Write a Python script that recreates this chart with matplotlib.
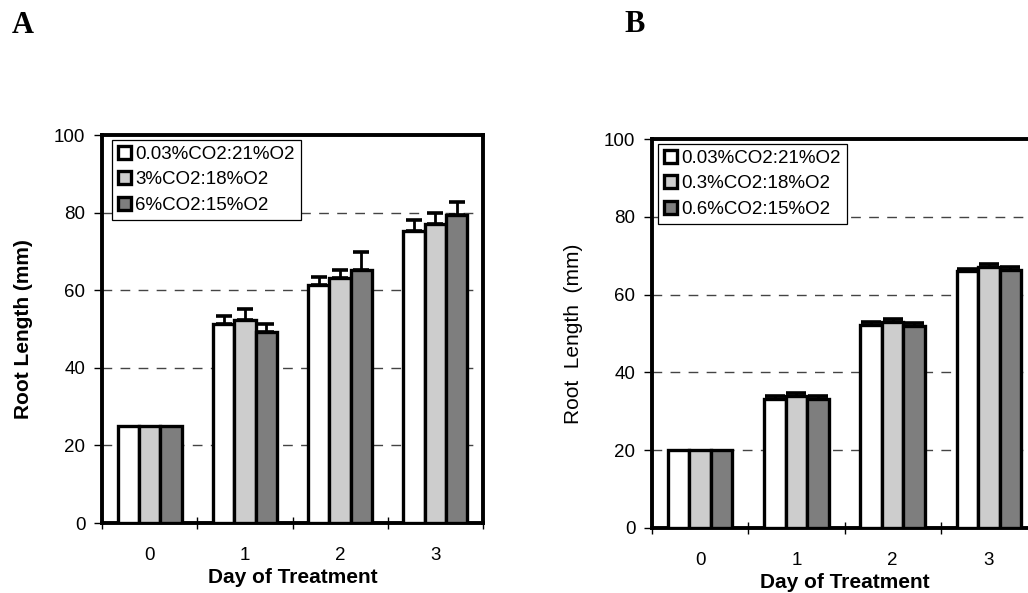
import matplotlib
matplotlib.use("Agg")
import matplotlib.pyplot as plt
import numpy as np

plt.rcParams['font.family'] = ['Liberation Sans', 'DejaVu Sans']

days = ["0", "1", "2", "3"]

# Panel A
labels_A = ["0.03%CO2:21%O2", "3%CO2:18%O2", "6%CO2:15%O2"]
A_white = [25.0, 51.2, 61.4, 75.2]
A_light = [25.0, 52.3, 63.2, 77.1]
A_dark = [25.0, 49.2, 65.1, 79.3]
A_white_err = [0.0, 2.1, 2.1, 2.8]
A_light_err = [0.0, 2.9, 2.1, 2.9]
A_dark_err = [0.0, 2.0, 4.8, 3.5]

# Panel B
labels_B = ["0.03%CO2:21%O2", "0.3%CO2:18%O2", "0.6%CO2:15%O2"]
B_white = [20.0, 33.2, 52.2, 66.0]
B_light = [20.0, 33.9, 53.0, 67.1]
B_dark = [20.0, 33.2, 52.0, 66.3]
B_white_err = [0.0, 0.7, 0.8, 0.6]
B_light_err = [0.0, 0.8, 0.8, 0.8]
B_dark_err = [0.0, 0.7, 0.8, 0.9]

yticks = [0, 20, 40, 60, 80, 100]
colors = ["#ffffff", "#cdcdcd", "#7e7e7e"]

W, H = 1028, 593
fig = plt.figure(figsize=(W / 100, H / 100), dpi=100)


def px_axes(l, r, t, b):
    return [l / W, (H - b) / H, (r - l) / W, (b - t) / H]


def draw(ax, series, errs, labels, ylabel, ybold, leg_xy, capsize):
    x = np.arange(len(days))
    bw = 0.224
    offs = [-bw, 0, bw]
    handles = []
    for s, e, c, o, lab in zip(series, errs, colors, offs, labels):
        b = ax.bar(x + o, s, width=bw, color=c, edgecolor='black', linewidth=2.4,
                   label=lab, zorder=3)
        handles.append(b)
        yerr = np.array([np.zeros(len(e)), e])
        mask = np.array(e) > 0
        ax.errorbar((x + o)[mask], np.array(s)[mask], yerr=yerr[:, mask], fmt='none',
                    ecolor='black', elinewidth=2.0, capsize=capsize, capthick=2.6, zorder=4)
    ax.set_xlim(-0.5, 3.5)
    ax.set_ylim(0, 100)
    ax.set_yticks(yticks)
    ax.set_xticks(x)
    ax.set_xticklabels(days)
    ax.set_xticks(np.arange(-0.5, 4.0, 1.0), minor=True)
    ax.tick_params(axis='x', which='major', length=0, pad=17, labelsize=13.5)
    ax.tick_params(axis='x', which='minor', direction='inout', length=9, width=1)
    ax.tick_params(axis='y', which='major', direction='out', length=6, width=1,
                   pad=6, labelsize=13.5)
    for sp in ax.spines.values():
        sp.set_linewidth(2.8)
    ax.set_axisbelow(True)
    ax.yaxis.grid(True, linestyle=(0, (7, 6)), color='#444444', linewidth=1.0)
    ax.set_xlabel("Day of Treatment", fontsize=15, fontweight='bold')
    ax.xaxis.set_label_coords(0.5, -0.115)
    ax.set_ylabel(ylabel, fontsize=15, fontweight='bold' if ybold else 'normal')
    ax.yaxis.set_label_coords(-0.18, 0.5)
    leg = ax.legend(handles=handles, loc='upper left', bbox_to_anchor=leg_xy,
                    bbox_transform=fig.transFigure, borderaxespad=0, fontsize=13.5,
                    frameon=True, fancybox=False, edgecolor='black', framealpha=1,
                    handlelength=0.7, handleheight=0.7, handletextpad=0.25,
                    labelspacing=0.45, borderpad=0.3)
    leg.get_frame().set_linewidth(0.9)
    leg.set_zorder(5)


axA = fig.add_axes(px_axes(102, 483, 135, 523))
draw(axA, [A_white, A_light, A_dark], [A_white_err, A_light_err, A_dark_err],
     labels_A, "Root Length (mm)", True, (112 / W, 1 - 140 / H), 5.5)

axB = fig.add_axes(px_axes(652, 1037, 139, 528))
draw(axB, [B_white, B_light, B_dark], [B_white_err, B_light_err, B_dark_err],
     labels_B, "Root  Length  (mm)", False, (658 / W, 1 - 144 / H), 7.0)

fig.text(12 / W, 1 - 11 / H, "A", fontsize=22, fontweight='bold',
         family=['Liberation Serif', 'DejaVu Serif'], ha='left', va='top')
fig.text(624 / W, 1 - 10 / H, "B", fontsize=22, fontweight='bold',
         family=['Liberation Serif', 'DejaVu Serif'], ha='left', va='top')

fig.savefig("out.png", dpi=100)
